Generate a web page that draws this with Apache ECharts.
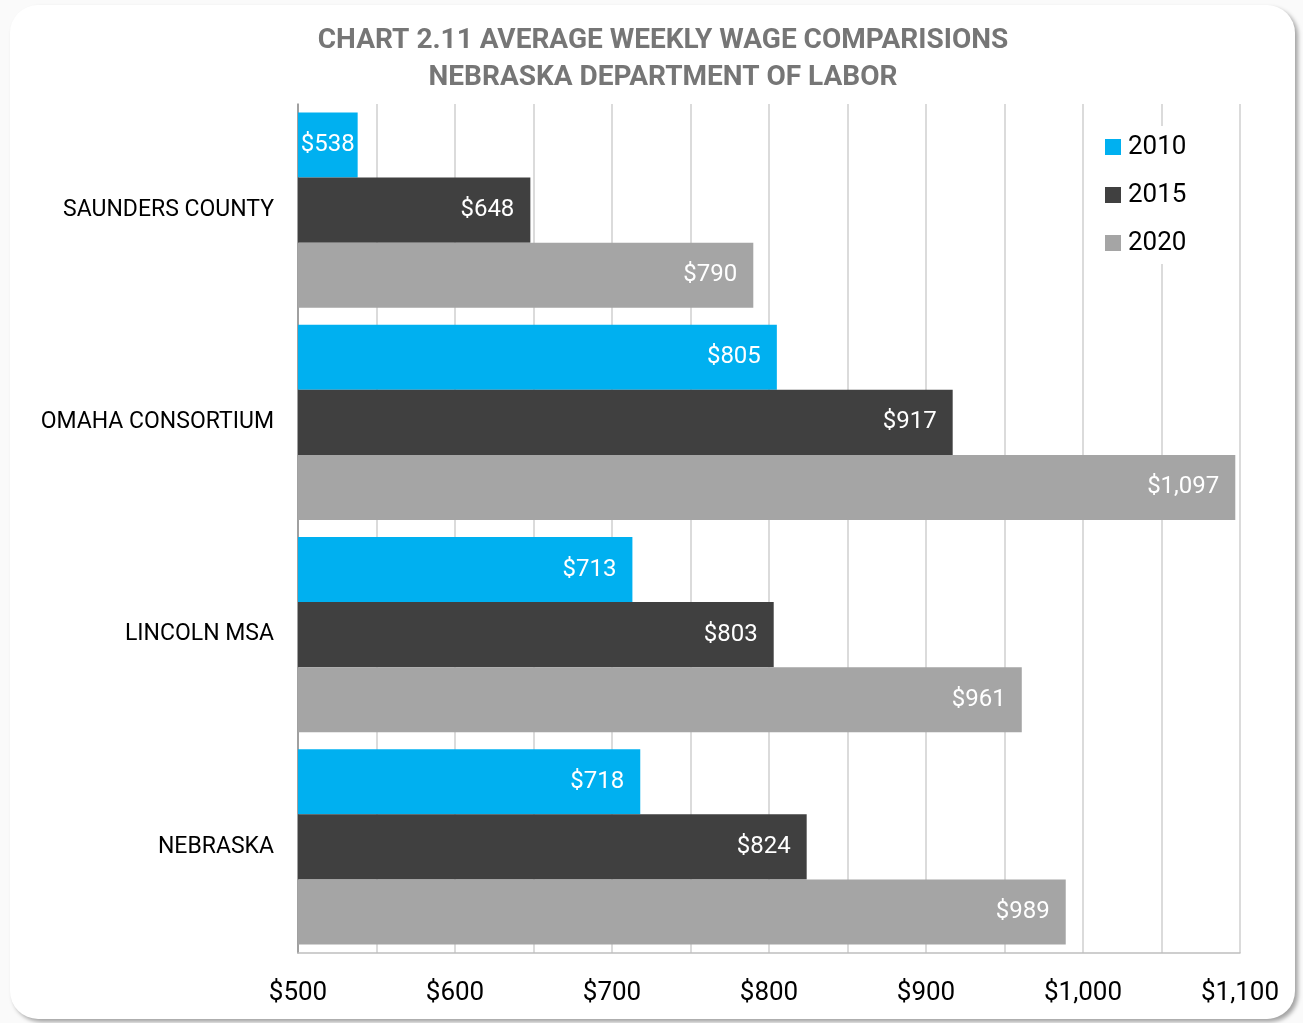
<!DOCTYPE html>
<html>
<head>
<meta charset="utf-8">
<script src="https://cdn.jsdelivr.net/npm/echarts@6/dist/echarts.min.js"></script>
<style>
  html, body { margin: 0; padding: 0; background: #fafafa; }
  .card {
    position: absolute;
    left: 10px; top: 5px;
    width: 1285px; height: 1014px;
    background: #fff;
    border-radius: 28px;
    box-shadow: 3px 3px 4px rgba(0, 0, 0, 0.35);
  }
  #chart { position: absolute; left: 0; top: 0; width: 1303px; height: 1023px; }
</style>
</head>
<body>
<div class="card"></div>
<div id="chart"></div>
<script>
const categories = ['SAUNDERS COUNTY', 'OMAHA CONSORTIUM', 'LINCOLN MSA', 'NEBRASKA']
const wages2010 = [538, 805, 713, 718]
const wages2015 = [648, 917, 803, 824]
const wages2020 = [790, 1097, 961, 989]
const seriesNames = ['2010', '2015', '2020']
const seriesColors = ['#00B0F0', '#404040', '#A5A5A5']

const font = '"Roboto", sans-serif'
const money = v => '$' + v.toLocaleString('en-US')

const chart = echarts.init(document.getElementById('chart'))

// short bars get their label pushed to the bar end so it stays inside
const makeSeries = (name, data, color) => ({
  name,
  type: 'bar',
  data: data.map(v => ({ value: v, label: { distance: v < 560 ? 3 : 16 } })),
  barGap: '0%',
  barCategoryGap: '8%',
  itemStyle: { color },
  label: {
    show: true,
    position: 'insideRight',
    color: '#fff',
    fontFamily: font,
    fontSize: 24,
    formatter: p => money(p.value),
  },
})

chart.setOption({
  animation: false,
  backgroundColor: 'transparent',
  title: {
    text: 'CHART 2.11 AVERAGE WEEKLY WAGE COMPARISIONS\nNEBRASKA DEPARTMENT OF LABOR',
    left: 658,
    textAlign: 'center',
    top: 17,
    textStyle: {
      fontFamily: font,
      fontSize: 28,
      fontWeight: 'bold',
      color: '#767676',
      lineHeight: 37,
    },
  },
  legend: {
    orient: 'vertical',
    left: 1095,
    top: 126,
    padding: [8, 10, 8, 10],
    itemGap: 22,
    itemWidth: 16,
    itemHeight: 16,
    icon: 'rect',
    backgroundColor: '#fff',
    data: seriesNames,
    textStyle: { fontFamily: font, fontSize: 26, color: '#000', padding: [0, 0, 0, 2] },
  },
  grid: {
    left: 298,
    right: 63,
    top: 104,
    bottom: 70,
  },
  xAxis: {
    type: 'value',
    min: 500,
    max: 1100,
    interval: 50,
    axisLine: { show: true, lineStyle: { color: '#bfbfbf', width: 1.5 } },
    axisTick: { show: false },
    splitLine: { lineStyle: { color: '#cfcfcf', width: 1.5 } },
    axisLabel: {
      margin: 27,
      fontFamily: font,
      fontSize: 26,
      color: '#000',
      formatter: v => (v % 100 === 0 ? money(v) : ''),
    },
  },
  yAxis: {
    type: 'category',
    inverse: true,
    data: categories,
    axisLine: { show: true, lineStyle: { color: '#8c8c8c', width: 1.5 } },
    axisTick: { show: false },
    axisLabel: {
      margin: 24,
      fontFamily: font,
      fontSize: 23,
      color: '#000',
    },
  },
  series: [
    makeSeries(seriesNames[0], wages2010, seriesColors[0]),
    makeSeries(seriesNames[1], wages2015, seriesColors[1]),
    makeSeries(seriesNames[2], wages2020, seriesColors[2]),
  ],
})
</script>
</body>
</html>
